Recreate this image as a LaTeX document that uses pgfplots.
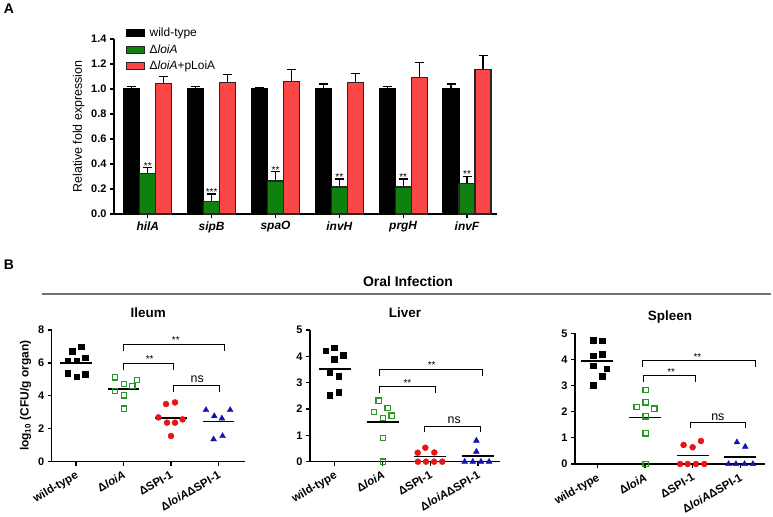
\documentclass[border=0pt]{standalone}
\usepackage{pgfplots}
\pgfplotsset{compat=1.18}
\usepackage{fontspec}
\setmainfont{Liberation Sans}

\definecolor{barGreen}{RGB}{16,128,16}
\definecolor{barRed}{RGB}{250,70,70}
\definecolor{ptGreen}{RGB}{40,150,40}
\definecolor{ptRed}{RGB}{232,20,20}
\definecolor{ptBlue}{RGB}{20,20,180}

\tikzset{
  star/.style={font=\fontsize{10}{10}\selectfont, anchor=base, yshift=-1.5bp},
  nslab/.style={font=\fontsize{12.5}{13}\selectfont, anchor=base},
}

\pgfplotsset{
  prism/.style={
    scale only axis,
    axis lines=left,
    axis line style={-, line width=1.2bp},
    tick align=outside,
    major tick length=4bp,
    tick style={line width=1.2bp, black},
    ticklabel style={font=\fontsize{11}{12}\selectfont\bfseries},
    /pgf/number format/assume math mode=true,
    clip=false,
  },
  scat/.style={
    prism,
    xtick={0,1,2,3},
    xticklabels={wild-type, Δ\textit{loiA}, ΔSPI-1, Δ\textit{loiA}ΔSPI-1},
    xticklabel style={rotate=30, anchor=north east, font=\fontsize{11.5}{12}\selectfont\bfseries},
    title style={at={(0.5,1)}, anchor=base, yshift=7bp, font=\fontsize{13.5}{14}\selectfont\bfseries},
  },
  errbar/.style={error bars/.cd, y dir=plus, y explicit,
    error bar style={black, line width=1.2bp},
    error mark options={black, line width=1.2bp, mark size=4.5bp, rotate=90}},
  mean/.style={black, line width=1.6bp, no markers},
  brk/.style={black, line width=0.9bp, no markers},
  sq/.style={only marks, mark=square*, mark size=2.8bp, black},
  osq/.style={only marks, mark=square, mark size=2.6bp, ptGreen, mark options={line width=1.2bp}},
  circ/.style={only marks, mark=*, mark size=3bp, ptRed},
  tri/.style={only marks, mark=triangle*, mark size=3.4bp, ptBlue},
}

\begin{document}
\begin{tikzpicture}[x=1bp, y=1bp]
\path[use as bounding box] (0,0) rectangle (773,517);

\node[font=\fontsize{14}{14}\selectfont\bfseries] at (9,508) {A};
\node[font=\fontsize{14}{14}\selectfont\bfseries] at (9,252) {B};

% ---------- panel A ----------
\begin{axis}[prism, at={(114bp,303bp)}, anchor=south west,
  width=383bp, height=175bp,
  xmin=-0.53, xmax=5.47, ymin=0, ymax=1.4,
  ytick={0,0.2,0.4,0.6,0.8,1.0,1.2,1.4},
  yticklabel style={/pgf/number format/.cd, fixed, fixed zerofill, precision=1},
  xtick={0,1,2,3,4,5},
  xticklabels={hilA, sipB, spaO, invH, prgH, invF},
  xticklabel style={font=\fontsize{12}{13}\selectfont\bfseries\itshape},
  ylabel={Relative fold expression},
  ylabel style={font=\fontsize{12.5}{14}\selectfont},
  ybar=0pt, bar width=16bp,
  legend image code/.code={\draw[#1, line width=1bp] (0bp,-3.5bp) rectangle (18bp,3.5bp);},
  legend style={at={(0.03,1.075)}, anchor=north west, draw=none, fill=none,
    font=\fontsize{12}{13}\selectfont, row sep=2.5bp, inner sep=0pt,
    /tikz/every odd column/.append style={column sep=3bp}},
  legend cell align=left,
]
\addplot[fill=black, draw=black, line width=1.2bp, errbar]
  coordinates {(0,1.005) +- (0,0.015) (1,1.005) +- (0,0.012) (2,1.005) +- (0,0.006)
               (3,1.005) +- (0,0.035) (4,1.005) +- (0,0.012) (5,1.005) +- (0,0.035)};
\addplot[fill=barGreen, draw=black!85, line width=1.2bp, errbar]
  coordinates {(0,0.326) +- (0,0.045) (1,0.099) +- (0,0.061) (2,0.264) +- (0,0.075)
               (3,0.216) +- (0,0.064) (4,0.216) +- (0,0.064) (5,0.246) +- (0,0.054)};
\addplot[fill=barRed, draw=black!85, line width=1.2bp, errbar]
  coordinates {(0,1.047) +- (0,0.053) (1,1.053) +- (0,0.061) (2,1.061) +- (0,0.093)
               (3,1.053) +- (0,0.069) (4,1.095) +- (0,0.118) (5,1.154) +- (0,0.112)};
\legend{wild-type, Δ\textit{loiA}, Δ\textit{loiA}+pLoiA}
\node[star] at (axis cs:0,0.371) {**};
\node[star] at (axis cs:1,0.160) {***};
\node[star] at (axis cs:2,0.339) {**};
\node[star] at (axis cs:3,0.280) {**};
\node[star] at (axis cs:4,0.280) {**};
\node[star] at (axis cs:5,0.300) {**};
\end{axis}

% ---------- panel B header ----------
\node[font=\fontsize{14}{15}\selectfont\bfseries] at (408,235) {Oral Infection};
\draw[black!55, line width=1.2bp] (42,223) -- (771,223);

% ---------- Ileum ----------
\begin{axis}[scat, at={(51.7bp,55.3bp)}, anchor=south west,
  width=193bp, height=131.7bp,
  xmin=-0.51, xmax=3.55, ymin=0, ymax=8, ytick={0,2,4,6,8},
  title={Ileum},
  ylabel={log\textsubscript{10} (CFU/g organ)},
  ylabel style={font=\fontsize{12}{13}\selectfont\bfseries},
]
\addplot[sq] coordinates {(0.105,6.98) (-0.084,6.72) (0.2,6.32) (-0.175,6.13)
  (0.014,6.13) (-0.175,5.36) (0.014,5.16) (0.2,5.30)};
\addplot[osq] coordinates {(0.825,5.12) (1.014,4.72) (1.284,4.96) (1.186,4.60)
  (0.825,4.31) (1.014,4.03) (1.014,3.22)};
\addplot[circ] coordinates {(1.895,3.50) (2.084,3.60) (1.735,2.69) (1.916,2.37)
  (2.084,2.37) (2.244,2.57) (2.0,1.56)};
\addplot[tri] coordinates {(2.735,3.14) (2.91,2.77) (3.244,3.14) (3.07,2.63)
  (2.895,1.36) (3.084,1.56)};
\addplot[mean] coordinates {(-0.335,6.01) (0.335,6.01)};
\addplot[mean] coordinates {(0.665,4.42) (1.335,4.42)};
\addplot[mean] coordinates {(1.665,2.67) (2.335,2.67)};
\addplot[mean] coordinates {(2.665,2.43) (3.335,2.43)};
\addplot[brk] coordinates {(0.99,6.74) (0.99,7.13) (3.13,7.13) (3.13,6.74)};
\addplot[brk] coordinates {(0.99,5.55) (0.99,5.97) (2.05,5.97) (2.05,5.55)};
\addplot[brk] coordinates {(2.05,4.25) (2.05,4.66) (3.01,4.66) (3.01,4.25)};
\node[star] at (axis cs:2.1,7.25) {**};
\node[star] at (axis cs:1.55,6.09) {**};
\node[nslab] at (axis cs:2.55,4.82) {ns};
\end{axis}

% ---------- Liver ----------
\begin{axis}[scat, at={(310bp,55.3bp)}, anchor=south west,
  width=190bp, height=131.7bp,
  xmin=-0.52, xmax=3.46, ymin=0, ymax=5, ytick={0,1,2,3,4,5},
  title={Liver},
]
\addplot[sq] coordinates {(-0.19,4.22) (-0.014,4.33) (0.174,4.05) (-0.014,3.89)
  (-0.105,3.38) (0.084,3.25) (0.084,2.63) (-0.105,2.52)};
\addplot[osq] coordinates {(0.916,2.32) (0.826,1.89) (1.105,2.05) (1.188,1.75)
  (1.014,1.67) (1.014,0.91) (1.014,0)};
\addplot[circ] coordinates {(1.735,0.34) (1.895,0.53) (2.084,0.35)
  (1.74,0) (1.91,0) (2.08,0) (2.25,0)};
\addplot[tri] coordinates {(2.965,0.80) (2.965,0.38)
  (2.72,0) (2.89,0) (3.06,0) (3.23,0)};
\addplot[mean] coordinates {(-0.335,3.53) (0.335,3.53)};
\addplot[mean] coordinates {(0.665,1.51) (1.335,1.51)};
\addplot[mean] coordinates {(1.665,0.19) (2.335,0.19)};
\addplot[mean] coordinates {(2.665,0.22) (3.335,0.22)};
\addplot[brk] coordinates {(0.93,3.27) (0.93,3.52) (3.1,3.52) (3.1,3.27)};
\addplot[brk] coordinates {(0.93,2.59) (0.93,2.85) (2.1,2.85) (2.1,2.59)};
\addplot[brk] coordinates {(1.87,1.14) (1.87,1.35) (3.04,1.35) (3.04,1.14)};
\node[star] at (axis cs:2.03,3.60) {**};
\node[star] at (axis cs:1.52,2.93) {**};
\node[nslab] at (axis cs:2.5,1.45) {ns};
\end{axis}

% ---------- Spleen ----------
\begin{axis}[scat, at={(575bp,53bp)}, anchor=south west,
  width=190bp, height=130.7bp,
  xmin=-0.47, xmax=3.52, ymin=0, ymax=5, ytick={0,1,2,3,4,5},
  title={Spleen},
]
\addplot[sq] coordinates {(-0.084,4.74) (0.105,4.72) (-0.084,4.15) (0.105,4.21)
  (-0.084,3.76) (0.196,3.64) (0.105,3.37) (-0.084,3.02)};
\addplot[osq] coordinates {(1.014,2.83) (1.014,2.36) (0.825,2.17) (1.196,2.12)
  (1.014,1.82) (1.014,1.17) (1.014,0)};
\addplot[circ] coordinates {(1.81,0.73) (2.0,0.64) (2.175,0.88)
  (1.735,0) (1.895,0) (2.07,0) (2.245,0)};
\addplot[tri] coordinates {(2.93,0.83) (3.105,0.66)
  (2.755,0) (2.91,0) (3.09,0) (3.266,0)};
\addplot[mean] coordinates {(-0.335,3.95) (0.335,3.95)};
\addplot[mean] coordinates {(0.665,1.78) (1.335,1.78)};
\addplot[mean] coordinates {(1.665,0.32) (2.335,0.32)};
\addplot[mean] coordinates {(2.665,0.26) (3.335,0.26)};
\addplot[brk] coordinates {(0.94,3.72) (0.94,3.95) (3.31,3.95) (3.31,3.72)};
\addplot[brk] coordinates {(0.965,3.15) (0.965,3.37) (2.05,3.37) (2.05,3.15)};
\addplot[brk] coordinates {(1.96,1.36) (1.96,1.58) (3.11,1.58) (3.11,1.36)};
\node[star] at (axis cs:2.1,4.03) {**};
\node[star] at (axis cs:1.55,3.45) {**};
\node[nslab] at (axis cs:2.53,1.68) {ns};
\end{axis}
\end{tikzpicture}
\end{document}
